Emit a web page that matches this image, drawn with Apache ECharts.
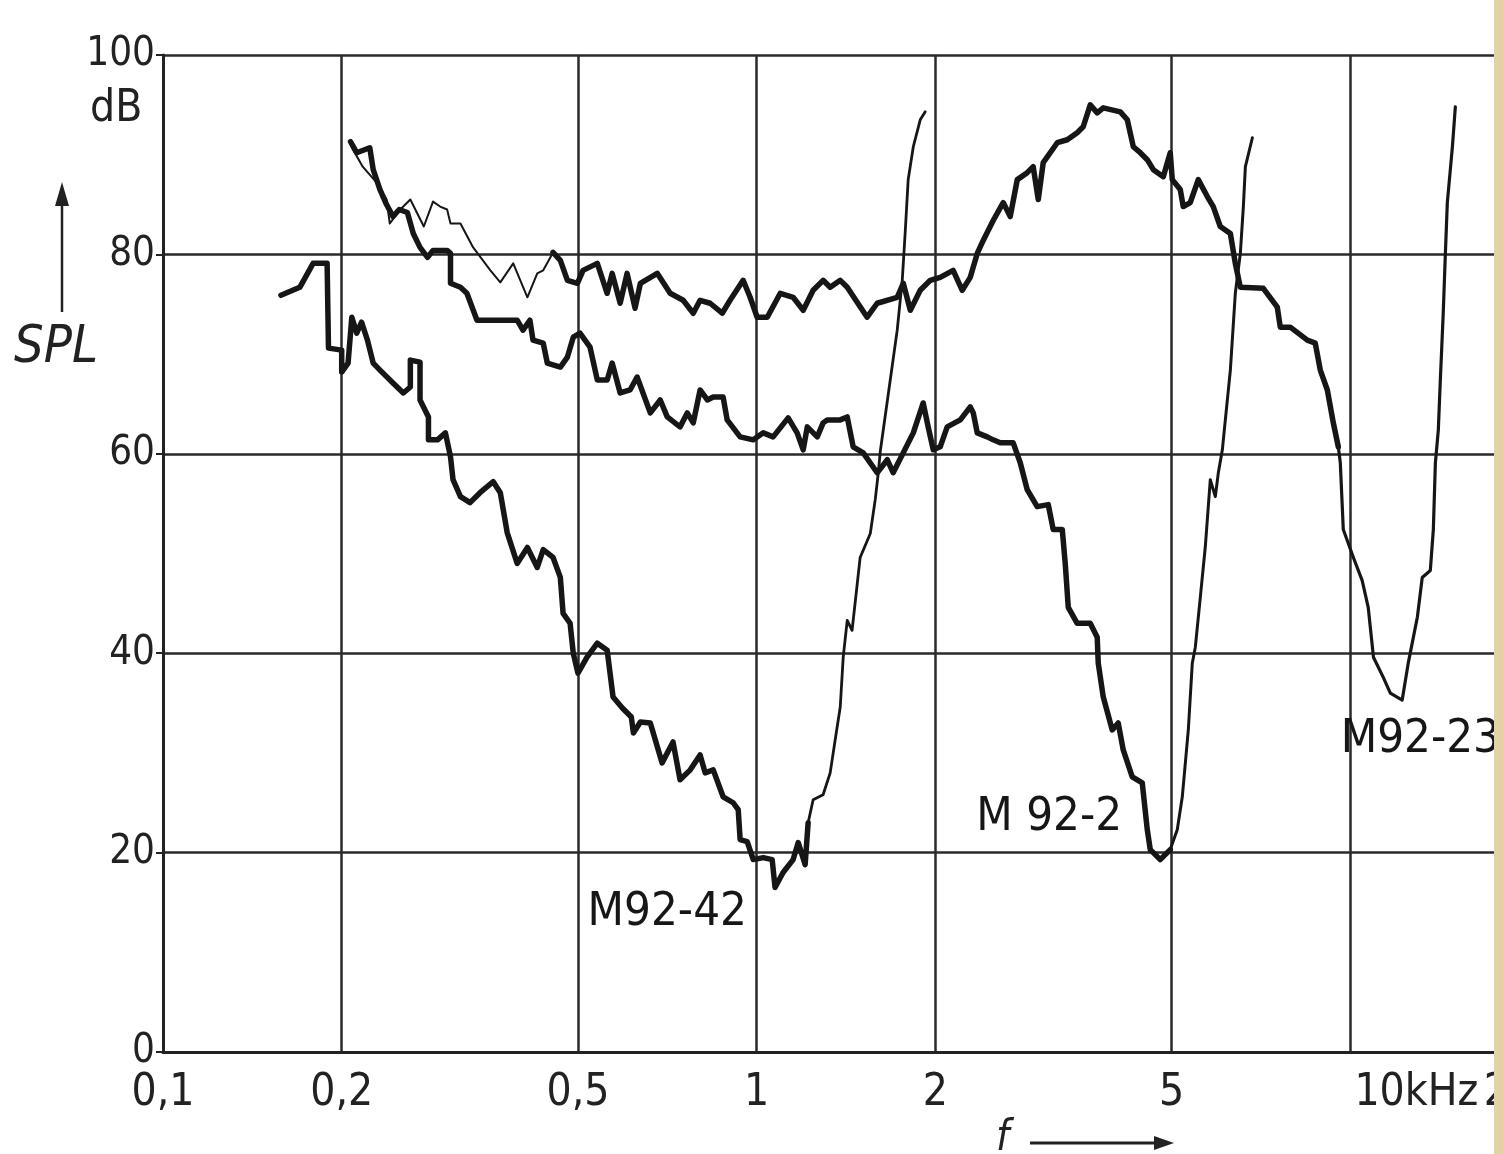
<!DOCTYPE html>
<html>
<head>
<meta charset="utf-8">
<script src="https://cdn.jsdelivr.net/npm/echarts@6/dist/echarts.min.js"></script>
<style>
html,body{margin:0;padding:0;background:#fff;overflow:hidden}
#chart{width:1560px;height:1154px}
#edge{position:absolute;left:1494px;top:0;width:9px;height:1154px;background:#e4d2a4}
</style>
</head>
<body>
<div id="chart"></div>
<div id="edge"></div>
<script>
// frequency ticks (kHz) and level ticks (dB)
var freqTicks = [0.1, 0.2, 0.5, 1, 2, 5, 10, 20];
var splTicks = [0, 20, 40, 60, 80, 100];

// M92-42 : [f kHz, SPL dB]
var m9242 = [[0.158,75.9],[0.170,76.7],[0.179,79.1],[0.189,79.1],[0.190,70.6],[0.200,70.4],[0.200,68.2],[0.205,69.1],[0.208,73.7],[0.212,72.1],[0.216,73.2],[0.221,71.4],[0.226,69.1],[0.232,68.4],[0.244,67.1],[0.254,66.1],[0.261,66.7],[0.261,69.4],[0.271,69.2],[0.271,65.4],[0.280,63.7],[0.280,61.4],[0.290,61.4],[0.299,62.1],[0.305,59.7],[0.308,57.4],[0.317,55.7],[0.329,55.1],[0.342,56.1],[0.360,57.2],[0.370,56.1],[0.380,52.1],[0.395,49.0],[0.411,50.6],[0.427,48.6],[0.437,50.4],[0.454,49.6],[0.467,47.6],[0.472,44.0],[0.485,43.0],[0.491,40.0],[0.500,38.0],[0.518,39.6],[0.539,41.0],[0.560,40.3],[0.573,35.6],[0.594,34.5],[0.615,33.6],[0.620,32.0],[0.637,33.1],[0.662,33.0],[0.693,29.0],[0.723,31.1],[0.743,27.3],[0.773,28.3],[0.803,29.8],[0.819,28.0],[0.845,28.3],[0.878,25.6],[0.913,25.0],[0.931,24.3],[0.938,21.3],[0.964,21.1],[0.987,19.3],[1.026,19.5],[1.062,19.3],[1.074,16.5],[1.108,18.0],[1.152,19.3],[1.175,21.0],[1.207,18.8],[1.221,23.0]];
var m9242Rise = [[1.221,23.0],[1.245,25.3],[1.294,25.8],[1.330,28.0],[1.356,31.3],[1.383,34.6],[1.399,39.6],[1.421,43.3],[1.448,42.3],[1.494,49.6],[1.554,52.0],[1.584,55.4],[1.603,58.1],[1.615,60.2],[1.679,67.4],[1.725,72.4],[1.759,77.4],[1.780,82.4],[1.800,87.5],[1.836,90.8],[1.886,93.5],[1.923,94.3]];

// M92-2
var m922 = [[0.207,91.3],[0.212,90.2],[0.223,90.7],[0.226,88.5],[0.232,86.5],[0.238,85.0],[0.244,83.8],[0.250,84.5],[0.258,84.2],[0.264,82.1],[0.271,80.7],[0.279,79.7],[0.285,80.4],[0.301,80.4],[0.305,80.1],[0.305,77.1],[0.317,76.7],[0.325,76.1],[0.338,73.4],[0.360,73.4],[0.395,73.4],[0.404,72.4],[0.415,73.4],[0.420,71.4],[0.437,71.1],[0.444,69.1],[0.467,68.7],[0.480,69.7],[0.491,71.7],[0.504,72.1],[0.524,70.7],[0.539,67.4],[0.560,67.4],[0.571,69.1],[0.589,66.1],[0.612,66.4],[0.629,67.7],[0.662,64.1],[0.688,65.4],[0.707,63.7],[0.743,62.7],[0.764,64.1],[0.782,63.1],[0.803,66.4],[0.826,65.4],[0.845,65.7],[0.878,65.7],[0.892,63.4],[0.938,61.7],[0.987,61.4],[1.026,62.1],[1.066,61.7],[1.130,63.6],[1.170,62.1],[1.198,60.4],[1.217,62.7],[1.265,61.7],[1.294,63.1],[1.315,63.4],[1.383,63.4],[1.421,63.7],[1.454,60.7],[1.512,60.1],[1.596,58.1],[1.660,59.4],[1.698,58.1],[1.766,60.1],[1.836,62.1],[1.908,65.1],[1.945,62.7],[1.984,60.4],[2.038,60.7],[2.094,62.7],[2.203,63.4],[2.290,64.7],[2.317,64.1],[2.353,62.1],[2.446,61.7],[2.503,61.4],[2.572,61.1],[2.705,61.1],[2.780,59.1],[2.856,56.4],[2.969,54.7],[3.099,54.9],[3.159,52.4],[3.272,52.4],[3.310,49.0],[3.349,44.6],[3.467,43.0],[3.647,43.0],[3.747,41.6],[3.762,39.0],[3.836,35.6],[3.972,32.3],[4.065,33.0],[4.145,30.3],[4.292,27.6],[4.462,27.0],[4.550,22.3],[4.603,20.3],[4.785,19.3],[4.974,20.3]];
var m922Rise = [[4.974,20.3],[5.111,22.3],[5.212,25.6],[5.335,32.3],[5.418,39.0],[5.482,40.6],[5.589,45.6],[5.699,50.7],[5.810,57.4],[5.924,55.7],[5.994,58.1],[6.088,60.4],[6.135,62.4],[6.280,68.4],[6.402,76.1],[6.528,80.1],[6.605,84.8],[6.657,88.8],[6.840,91.7]];

// M92-23
var m9223Start = [[0.207,91.0],[0.209,90.5],[0.217,88.8],[0.229,87.2],[0.238,85.5],[0.241,83.1],[0.251,84.5],[0.261,85.5],[0.275,82.8],[0.285,85.3],[0.293,84.8],[0.301,84.5],[0.305,83.1],[0.317,83.1],[0.333,80.7],[0.356,78.4],[0.370,77.2],[0.389,79.1],[0.411,75.7],[0.427,78.1],[0.437,78.4],[0.454,80.2]];
var m9223 = [[0.454,80.2],[0.467,79.4],[0.480,77.4],[0.499,77.1],[0.510,78.4],[0.539,79.1],[0.560,76.1],[0.571,78.1],[0.589,75.1],[0.605,78.1],[0.624,74.6],[0.637,77.1],[0.680,78.1],[0.715,76.1],[0.752,75.4],[0.782,74.1],[0.803,75.4],[0.835,75.1],[0.875,74.1],[0.902,75.4],[0.949,77.4],[0.975,75.7],[1.002,73.7],[1.042,73.7],[1.096,76.1],[1.152,75.7],[1.198,74.4],[1.245,76.4],[1.294,77.4],[1.330,76.7],[1.383,77.4],[1.421,76.7],[1.535,73.7],[1.596,75.1],[1.725,75.7],[1.766,77.1],[1.815,74.4],[1.886,76.4],[1.961,77.4],[2.038,77.7],[2.143,78.4],[2.220,76.4],[2.290,77.7],[2.353,80.1],[2.408,81.4],[2.503,83.4],[2.602,85.2],[2.674,83.8],[2.748,87.5],[2.856,88.2],[2.923,88.8],[2.981,85.5],[3.039,89.2],[3.209,91.2],[3.336,91.5],[3.467,92.2],[3.549,92.8],[3.647,95.0],[3.747,94.2],[3.836,94.7],[4.098,94.3],[4.211,93.5],[4.310,90.8],[4.428,90.2],[4.550,89.5],[4.658,88.5],[4.842,87.8],[4.974,90.2],[5.013,87.5],[5.171,86.5],[5.231,84.8],[5.375,85.2],[5.545,87.5],[5.743,85.8],[5.877,84.8],[6.039,82.8],[6.280,82.1],[6.402,79.1],[6.528,76.7],[7.136,76.6],[7.534,74.7],[7.622,72.7],[7.923,72.7],[8.464,71.4],[8.730,71.1],[8.902,68.4],[9.148,66.4],[9.363,63.1],[9.546,60.7]];
var m9223Rise = [[9.546,60.7],[9.620,59.1],[9.732,52.4],[10.12,49.6],[10.47,47.3],[10.72,44.6],[10.94,39.6],[11.36,37.6],[11.68,36.0],[12.23,35.3],[12.52,39.0],[12.97,43.6],[13.22,47.6],[13.64,48.3],[13.80,52.4],[13.91,59.1],[14.07,62.4],[14.18,67.4],[14.34,74.1],[14.46,80.1],[14.57,85.2],[14.86,90.8],[15.03,94.8]];

// curve names and where their labels sit [f, dB]
var curveNames = ['M92-42', 'M 92-2', 'M92-23'];
var labelSpots = [[0.707, 14.0], [3.11, 23.5], [13.12, 31.3]];

var font = '"DejaVu Sans Condensed", "Liberation Sans Narrow", sans-serif';
var ink = '#161616';

function trace(data, width, label, spot) {
    var s = {
        type: 'line',
        data: data,
        showSymbol: false,
        symbol: 'none',
        silent: true,
        lineStyle: { color: ink, width: width, join: 'round', cap: 'round' },
        z: 3
    };
    if (label) {
        s.markPoint = {
            symbol: 'circle',
            symbolSize: 0,
            silent: true,
            label: { show: true, position: 'inside', formatter: label, color: ink, fontFamily: font, fontSize: 47 },
            data: [{ coord: spot }]
        };
    }
    return s;
}

// chart div is a bit wider than the window: the 20 kHz edge falls just outside, as in the scan
var chart = echarts.init(document.getElementById('chart'));
chart.setOption({
    animation: false,
    backgroundColor: '#fff',
    grid: { left: 163, top: 55, right: 31, bottom: 102 },
    xAxis: {
        type: 'log',
        logBase: 10,
        min: 0.1,
        max: 20,
        axisLine: { show: true, lineStyle: { color: '#222', width: 3 } },
        axisTick: { show: false, customValues: freqTicks },
        splitLine: { show: true, lineStyle: { color: '#2a2a2a', width: 2.5 } },
        axisLabel: {
            customValues: freqTicks,
            margin: 20,
            color: '#222',
            fontFamily: font,
            fontSize: 44,
            formatter: function (v) {
                if (Math.abs(v - 10) < 1e-6) return '{k|10kHz}';
                if (Math.abs(v - 20) < 1e-6) return '{t|20}';
                return String(+v.toFixed(3)).replace('.', ',');
            },
            rich: {
                k: { fontFamily: font, fontSize: 44, color: '#222', padding: [0, 0, 0, 132] },
                t: { fontFamily: font, fontSize: 44, color: '#222', padding: [0, 40, 0, 0] }
            }
        }
    },
    yAxis: {
        type: 'value',
        min: 0,
        max: 100,
        interval: 20,
        axisLine: { show: true, lineStyle: { color: '#222', width: 3 } },
        axisTick: { show: true, length: 7, lineStyle: { color: '#222', width: 2 } },
        splitLine: { show: true, lineStyle: { color: '#2a2a2a', width: 2.5 } },
        axisLabel: {
            margin: 8,
            color: '#222',
            fontFamily: font,
            fontSize: 40,
            formatter: function (v) { return splTicks.indexOf(v) >= 0 ? String(v) : ''; }
        }
    },
    graphic: [
        { type: 'text', left: 90, top: 88, style: { text: 'dB', font: '44px ' + font, fill: '#222' } },
        { type: 'text', left: 14, top: 322, style: { text: 'SPL', font: 'italic 52px ' + font, fill: '#222' } },
        { type: 'line', shape: { x1: 62, y1: 312, x2: 62, y2: 200 }, style: { stroke: '#222', lineWidth: 2.5 } },
        { type: 'polygon', shape: { points: [[55, 206], [69, 206], [62, 182]] }, style: { fill: '#222' } },
        { type: 'text', left: 996, top: 1118, style: { text: 'f', font: 'italic 42px ' + font, fill: '#222' } },
        { type: 'line', shape: { x1: 1030, y1: 1143, x2: 1160, y2: 1143 }, style: { stroke: '#222', lineWidth: 3 } },
        { type: 'polygon', shape: { points: [[1154, 1136], [1154, 1150], [1174, 1143]] }, style: { fill: '#222' } }
    ],
    series: [
        trace(m9242, 5.5, curveNames[0], labelSpots[0]),
        trace(m9242Rise, 2.8),
        trace(m922, 5.5, curveNames[1], labelSpots[1]),
        trace(m922Rise, 3),
        trace(m9223Start, 2),
        trace(m9223, 5.5, curveNames[2], labelSpots[2]),
        trace(m9223Rise, 3.2)
    ]
});
</script>
</body>
</html>
